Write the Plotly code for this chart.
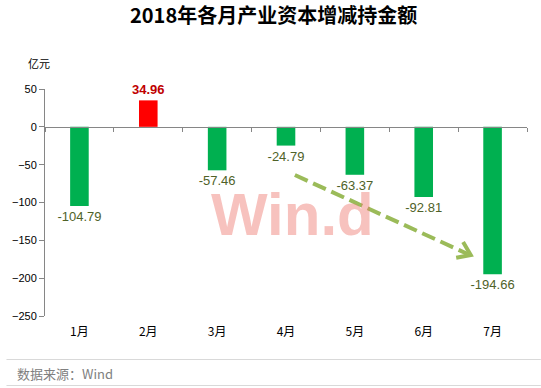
import plotly.graph_objects as go

months = ["1月", "2月", "3月", "4月", "5月", "6月", "7月"]
values = [-104.79, 34.96, -57.46, -24.79, -63.37, -92.81, -194.66]
labels = ["-104.79", "34.96", "-57.46", "-24.79", "-63.37", "-92.81", "-194.66"]
y_ticks = [50, 0, -50, -100, -150, -200, -250]

bar_colors = ["#FF0000" if v > 0 else "#00B050" for v in values]
text_colors = ["#C00000" if v > 0 else "#4F6228" for v in values]
text_weights = ["bold" if v > 0 else "normal" for v in values]

L, R, T, B = 39, 14, 89, 72
W, H = 541, 388
PW, PH = W - L - R, H - T - B


def px(x):
    return (x - L) / PW


def py(y):
    return (H - B - y) / PH


fig = go.Figure()
fig.add_trace(go.Bar(
    x=months, y=values,
    marker=dict(color=bar_colors, line=dict(width=0)),
    text=labels, textposition="outside", constraintext="none",
    textfont=dict(family="Liberation Sans", size=13, color=text_colors, weight=text_weights),
    cliponaxis=False, hoverinfo="skip", width=0.27,
))
# invisible helper trace to carry the zero-line category axis
fig.add_trace(go.Scatter(
    x=months, y=values, xaxis="x2", mode="markers",
    marker=dict(opacity=0), hoverinfo="skip", showlegend=False,
))

shapes = []
# dashed trend arrow
shapes.append(dict(type="line", xref="paper", yref="paper",
                   x0=px(292), y0=py(175), x1=px(467), y1=py(254),
                   line=dict(color="#9BBB59", width=4, dash="14px,6px")))
shapes.append(dict(type="path", xref="paper", yref="paper",
                   path=f"M {px(462.3)} {py(242.1)} L {px(470)} {py(255)} L {px(455.3)} {py(257.8)}",
                   line=dict(color="#9BBB59", width=4)))
# footer rules
for yy in (359.5, 385.5):
    shapes.append(dict(type="line", xref="paper", yref="paper",
                       x0=px(0), x1=px(541), y0=py(yy), y1=py(yy),
                       line=dict(color="#D9D9D9", width=1)))

annotations = [
    dict(text="<b>2018年各月产业资本增减持金额</b>", xref="paper", yref="paper",
         x=px(270), y=py(15), xanchor="center", yanchor="middle", showarrow=False,
         font=dict(family="Noto Sans CJK SC", size=20, color="#000000")),
    dict(text="亿元", xref="paper", yref="paper", x=px(33), y=py(63),
         xanchor="center", yanchor="middle", showarrow=False,
         font=dict(family="Noto Sans CJK SC", size=11, color="#000000")),
    dict(text="数据来源：Wind", xref="paper", yref="paper", x=px(9), y=py(373),
         xanchor="left", yanchor="middle", showarrow=False,
         font=dict(family="Noto Sans CJK SC", size=13, color="#808080")),
    dict(text="<b>Win.d</b>", xref="paper", yref="paper", x=px(290), y=py(214),
         xanchor="center", yanchor="middle", showarrow=False,
         font=dict(family="Liberation Sans", size=60, color="rgba(235,110,100,0.42)")),
]

fig.update_layout(
    width=W, height=H,
    margin=dict(l=L, r=R, t=T, b=B, pad=0),
    paper_bgcolor="white", plot_bgcolor="white",
    showlegend=False,
    bargap=0.73,
    xaxis=dict(type="category", categoryorder="array", categoryarray=months,
               range=[-0.5, 6.5], showline=False, showgrid=False, zeroline=False,
               ticks="outside", ticklen=5, tickcolor="rgba(0,0,0,0)",
               tickfont=dict(family="Noto Sans CJK SC", size=12, color="#000000")),
    xaxis2=dict(type="category", categoryorder="array", categoryarray=months,
                range=[-0.5, 6.5], overlaying="x", anchor="free", position=250 / 300,
                side="bottom", showline=True, linecolor="#868686", linewidth=1,
                ticks="outside", tickson="boundaries", ticklen=4, tickcolor="#868686",
                showticklabels=False, showgrid=False, zeroline=False),
    yaxis=dict(range=[-250, 50], tickvals=y_ticks, showline=True, linecolor="#868686",
               linewidth=1, ticks="outside", ticklen=5, tickcolor="#868686",
               showgrid=False, zeroline=False,
               tickfont=dict(family="Liberation Sans", size=11, color="#000000")),
    shapes=shapes,
    annotations=annotations,
)

fig.write_html("out.html", config={"displayModeBar": False, "staticPlot": True},
               post_script="document.body.style.margin='0';document.body.style.overflow='hidden';")
